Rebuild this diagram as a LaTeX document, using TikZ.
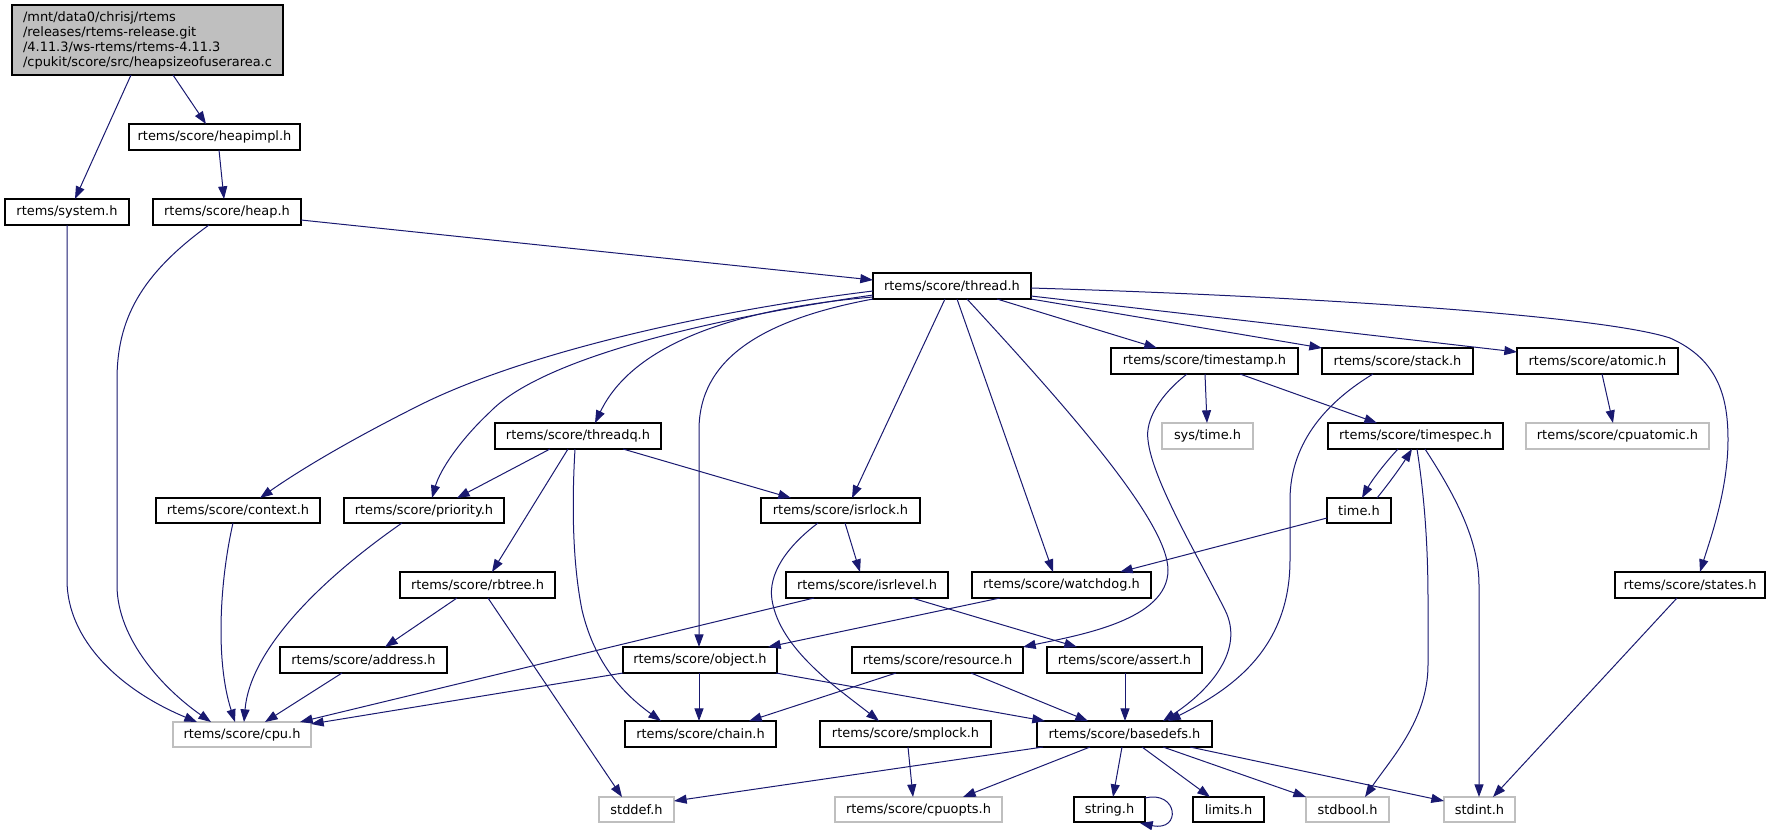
\documentclass[tikz,border=0pt]{standalone}
\usepackage{fontspec}
\setmainfont{DejaVu Sans}
\usetikzlibrary{arrows.meta,calc}
\definecolor{edgec}{HTML}{191970}
\definecolor{graybd}{HTML}{BFBFBF}
\definecolor{rootfill}{HTML}{BFBFBF}
\newcommand{\gfont}{\fontsize{9.7}{11.25}\selectfont}
\newcommand{\gnode}[7]{\node[#7, minimum width={(#4-#2)*0.75pt}, minimum height={(#5-#3)*0.75pt}] (#1) at ({(#2+#4)/2},{(#3+#5)/2}) {#6};}
\tikzset{
  box/.style={draw=black, line width=0.9pt, inner sep=0pt, outer sep=0pt, font=\gfont, text=black},
  gbox/.style={box, draw=graybd},
  rootbox/.style={box, fill=rootfill, align=left},
  edge/.style={draw=edgec, line width=0.75pt, -{Triangle[length=9.5pt,width=6.8pt]}}
}
\begin{document}
\begin{tikzpicture}[x=0.75pt,y=-0.75pt]
\useasboundingbox (0,0) rectangle (1775,829);
% nodes
\gnode{root}{12}{5}{283}{75}{/mnt/data0/chrisj/rtems\\/releases/rtems-release.git\\/4.11.3/ws-rtems/rtems-4.11.3\\/cpukit/score/src/heapsizeofuserarea.c}{rootbox}
\gnode{heapimpl}{129}{124}{300}{150}{rtems/score/heapimpl.h}{box}
\gnode{system}{5}{199}{129}{225}{rtems/system.h}{box}
\gnode{heap}{153}{199}{301}{225}{rtems/score/heap.h}{box}
\gnode{thread}{873}{273}{1031}{299}{rtems/score/thread.h}{box}
\gnode{timestamp}{1111}{348}{1298}{374}{rtems/score/timestamp.h}{box}
\gnode{stack}{1322}{348}{1473}{374}{rtems/score/stack.h}{box}
\gnode{atomic}{1517}{348}{1678}{374}{rtems/score/atomic.h}{box}
\gnode{threadq}{495}{423}{661}{449}{rtems/score/threadq.h}{box}
\gnode{systime}{1162}{423}{1253}{449}{sys/time.h}{gbox}
\gnode{timespec}{1328}{423}{1503}{449}{rtems/score/timespec.h}{box}
\gnode{cpuatomic}{1526}{423}{1709}{449}{rtems/score/cpuatomic.h}{gbox}
\gnode{context}{156}{498}{320}{523}{rtems/score/context.h}{box}
\gnode{priority}{344}{498}{504}{523}{rtems/score/priority.h}{box}
\gnode{isrlock}{761}{498}{920}{523}{rtems/score/isrlock.h}{box}
\gnode{timeh}{1327}{498}{1391}{523}{time.h}{box}
\gnode{rbtree}{400}{572}{555}{598}{rtems/score/rbtree.h}{box}
\gnode{isrlevel}{786}{572}{948}{598}{rtems/score/isrlevel.h}{box}
\gnode{watchdog}{972}{572}{1151}{598}{rtems/score/watchdog.h}{box}
\gnode{states}{1615}{572}{1765}{598}{rtems/score/states.h}{box}
\gnode{address}{280}{647}{447}{673}{rtems/score/address.h}{box}
\gnode{object}{623}{647}{777}{673}{rtems/score/object.h}{box}
\gnode{resource}{852}{647}{1023}{673}{rtems/score/resource.h}{box}
\gnode{assert}{1047}{647}{1202}{673}{rtems/score/assert.h}{box}
\gnode{cpu}{173}{722}{311}{747}{rtems/score/cpu.h}{gbox}
\gnode{chain}{625}{721}{776}{747}{rtems/score/chain.h}{box}
\gnode{smplock}{820}{721}{991}{747}{rtems/score/smplock.h}{box}
\gnode{basedefs}{1037}{721}{1212}{747}{rtems/score/basedefs.h}{box}
\gnode{stddef}{599}{797}{674}{822}{stddef.h}{gbox}
\gnode{cpuopts}{835}{797}{1002}{822}{rtems/score/cpuopts.h}{gbox}
\gnode{string}{1074}{797}{1145}{822}{string.h}{box}
\gnode{limits}{1193}{797}{1264}{822}{limits.h}{box}
\gnode{stdbool}{1306}{797}{1389}{822}{stdbool.h}{gbox}
\gnode{stdint}{1444}{797}{1515}{822}{stdint.h}{gbox}
% edges
\draw[edge] ($(root.south west)+(119,0)$) -- ($(system.north west)+(70,0)$);
\draw[edge] ($(root.south west)+(161,0)$) -- ($(heapimpl.north west)+(77,0)$);
\draw[edge] ($(heapimpl.south west)+(90,0)$) -- ($(heap.north west)+(71,0)$);
\draw[edge] ($(system.south west)+(62,0)$) -- (67,580) .. controls (67,640) and (120,690) .. ($(cpu.north west)+(24,0)$);
\draw[edge] ($(heap.south west)+(56,0)$) .. controls (140,275) and (117,320) .. (117,380) -- (117,585) .. controls (117,640) and (165,690) .. ($(cpu.north west)+(38,0)$);
\draw[edge] ($(context.south west)+(77,0)$) .. controls (220,580) and (215,660) .. ($(cpu.north west)+(62,0)$);
\draw[edge] ($(priority.south west)+(58,0)$) .. controls (320,580) and (250,650) .. ($(cpu.north west)+(71,0)$);
\draw[edge] ($(address.south west)+(62,0)$) -- ($(cpu.north west)+(92,0)$);
\draw[edge] ($(isrlevel.south west)+(28,0)$) -- ($(cpu.north east)+(-11,0)$);
\draw[edge] (object.south west) -- ($(cpu.north east)+(0,2)$);
\draw[edge] ($(rbtree.south west)+(57,0)$) -- ($(address.north west)+(105,0)$);
\draw[edge] ($(rbtree.south west)+(88,0)$) -- ($(stddef.north west)+(23,0)$);
\draw[edge] ($(heap.south east)+(0,-5)$) -- ($(thread.north west)+(0,7)$);
% thread
\draw[edge] ($(thread.south west)+(0,-8)$) .. controls (700,312) and (520,355) .. (420,405) .. controls (350,440) and (300,470) .. ($(context.north west)+(104,0)$);
\draw[edge] ($(thread.south west)+(0,-4)$) .. controls (700,320) and (540,360) .. (490,412) .. controls (460,440) and (440,470) .. ($(priority.north west)+(88,0)$);
\draw[edge] ($(thread.south west)+(0,-2)$) .. controls (720,310) and (630,350) .. ($(threadq.north west)+(100,0)$);
\draw[edge] (thread.south west) .. controls (760,320) and (699,360) .. (699,430) -- ($(object.north west)+(76,0)$);
\draw[edge] ($(thread.south west)+(72,0)$) -- ($(isrlock.north west)+(91,0)$);
\draw[edge] ($(thread.south west)+(84,0)$) -- ($(watchdog.north west)+(81,0)$);
\draw[edge] ($(thread.south west)+(94,0)$) .. controls (1060,400) and (1168,520) .. (1168,570) .. controls (1168,620) and (1080,635) .. (resource.north east);
\draw[edge] ($(thread.south west)+(124,0)$) -- ($(timestamp.north west)+(46,0)$);
\draw[edge] (thread.south east) -- (stack.north west);
\draw[edge] ($(thread.south east)+(0,-3)$) -- ($(atomic.north west)+(0,4)$);
\draw[edge] ($(thread.north east)+(0,15)$) .. controls (1300,296) and (1600,315) .. (1670,338) .. controls (1720,360) and (1728,400) .. (1728,440) .. controls (1728,490) and (1710,540) .. ($(states.north west)+(85,0)$);
% timestamp, stack, timespec, atomic, states
\draw[edge] ($(timestamp.south west)+(94,0)$) -- ($(systime.north west)+(45,0)$);
\draw[edge] ($(timestamp.south west)+(129,0)$) -- ($(timespec.north west)+(49,0)$);
\draw[edge] ($(timestamp.south west)+(76,0)$) .. controls (1160,395) and (1145,420) .. (1148,440) .. controls (1152,480) and (1200,560) .. (1225,610) .. controls (1245,650) and (1210,690) .. ($(basedefs.north west)+(126,0)$);
\draw[edge] ($(stack.south west)+(51,0)$) .. controls (1330,400) and (1290,440) .. (1290,500) -- (1290,560) .. controls (1290,650) and (1230,690) .. ($(basedefs.north west)+(131,0)$);
\draw[edge] ($(timespec.south west)+(70,0)$) .. controls (1385,463) and (1372,480) .. ($(timeh.north west)+(35,0)$);
\draw[edge] ($(timeh.north west)+(50,0)$) .. controls (1390,482) and (1402,465) .. ($(timespec.south west)+(84,0)$);
\draw[edge] ($(timespec.south west)+(89,0)$) .. controls (1425,500) and (1428,550) .. (1428,600) -- (1428,665) .. controls (1428,720) and (1390,760) .. ($(stdbool.north west)+(59,0)$);
\draw[edge] ($(timespec.south west)+(97,0)$) .. controls (1455,495) and (1479,540) .. (1479,585) -- ($(stdint.north west)+(35,0)$);
\draw[edge] ($(atomic.south west)+(85,0)$) -- ($(cpuatomic.north west)+(87,0)$);
\draw[edge] ($(states.south west)+(62,0)$) -- ($(stdint.north west)+(49,0)$);
% threadq
\draw[edge] ($(threadq.south west)+(55,0)$) -- ($(priority.north west)+(113,0)$);
\draw[edge] ($(threadq.south west)+(73,0)$) -- ($(rbtree.north west)+(92,0)$);
\draw[edge] ($(threadq.south west)+(80,0)$) .. controls (572,500) and (572,560) .. (582,610) .. controls (595,665) and (625,695) .. ($(chain.north west)+(36,0)$);
\draw[edge] ($(threadq.south west)+(128,0)$) -- ($(isrlock.north west)+(30,0)$);
% isrlock, isrlevel, watchdog, time.h
\draw[edge] ($(isrlock.south west)+(84,0)$) -- ($(isrlevel.north west)+(74,0)$);
\draw[edge] ($(isrlock.south west)+(57,0)$) .. controls (785,548) and (768,575) .. (772,600) .. controls (780,650) and (840,690) .. ($(smplock.north west)+(59,0)$);
\draw[edge] ($(isrlevel.south west)+(126,0)$) -- ($(assert.north west)+(30,0)$);
\draw[edge] ($(watchdog.south west)+(28,0)$) -- ($(object.north west)+(145,0)$);
\draw[edge] ($(timeh.south west)+(0,-5)$) -- ($(watchdog.north west)+(148,0)$);
% object, resource, assert, smplock
\draw[edge] ($(object.south west)+(76,0)$) -- ($(chain.north west)+(74,0)$);
\draw[edge] ($(object.south east)+(-1,0)$) -- ($(basedefs.north west)+(8,0)$);
\draw[edge] ($(resource.south west)+(44,0)$) -- ($(chain.north west)+(124,0)$);
\draw[edge] ($(resource.south west)+(119,0)$) -- ($(basedefs.north west)+(51,0)$);
\draw[edge] ($(assert.south west)+(78,0)$) -- ($(basedefs.north west)+(88,0)$);
\draw[edge] ($(smplock.south west)+(88,0)$) -- ($(cpuopts.north west)+(78,0)$);
% basedefs
\draw[edge] ($(basedefs.south west)+(6,0)$) -- ($(stddef.north east)+(0,4)$);
\draw[edge] ($(basedefs.south west)+(53,0)$) -- ($(cpuopts.north west)+(128,0)$);
\draw[edge] ($(basedefs.south west)+(85,0)$) -- ($(string.north west)+(39,0)$);
\draw[edge] ($(basedefs.south west)+(105,0)$) -- ($(limits.north west)+(17,0)$);
\draw[edge] ($(basedefs.south west)+(126,0)$) -- (stdbool.north west);
\draw[edge] ($(basedefs.south west)+(153,0)$) -- ($(stdint.north west)+(0,4)$);
\draw[edge] ($(string.north east)+(0,1)$) .. controls (1178,790) and (1182,832) .. ($(string.south east)+(-5,1)$);
\end{tikzpicture}
\end{document}
